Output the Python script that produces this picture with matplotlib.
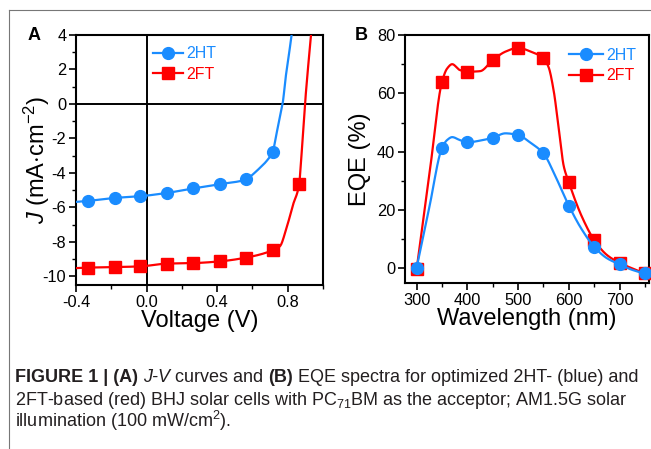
import numpy as np
import matplotlib
matplotlib.use("Agg")
import matplotlib.pyplot as plt
from matplotlib.lines import Line2D

plt.rcParams['font.family'] = ['Liberation Sans', 'DejaVu Sans']
plt.rcParams['mathtext.fontset'] = 'custom'
plt.rcParams['mathtext.rm'] = 'Liberation Sans'
plt.rcParams['mathtext.it'] = 'Liberation Sans:italic'
plt.rcParams['mathtext.bf'] = 'Liberation Sans:bold'

# ---------------- data: panel A (J-V) ----------------
v_markers = [-0.33, -0.18, -0.035, 0.115, 0.265, 0.415, 0.565, 0.715]
j_2ht_markers = [-5.62, -5.45, -5.35, -5.16, -4.90, -4.65, -4.38, -2.77]
v_2ft_markers = [-0.33, -0.18, -0.035, 0.115, 0.265, 0.415, 0.565, 0.715, 0.865]
j_2ft_markers = [-9.49, -9.46, -9.42, -9.26, -9.23, -9.13, -8.91, -8.49, -4.65]

# measured curves (denser than the markers)
v_2ht_curve = [-0.40, -0.33, -0.18, -0.035, 0.115, 0.265, 0.415, 0.565, 0.606, 0.643, 0.681,
               0.715, 0.737, 0.756, 0.771, 0.789, 0.808, 0.822]
j_2ht_curve = [-5.68, -5.62, -5.45, -5.35, -5.16, -4.90, -4.65, -4.38, -4.05, -3.70, -3.30,
               -2.77, -1.70, -0.74, 0.0, 1.59, 2.95, 4.0]
v_2ft_curve = [-0.40, -0.33, -0.18, -0.035, 0.115, 0.265, 0.415, 0.565, 0.715, 0.756, 0.793,
               0.83, 0.865, 0.875, 0.898, 0.92, 0.932]
j_2ft_curve = [-9.52, -9.49, -9.46, -9.42, -9.26, -9.23, -9.13, -8.91, -8.49, -8.25, -7.2,
               -5.85, -4.65, -3.4, 0.0, 2.66, 4.0]

# ---------------- data: panel B (EQE) ----------------
wavelength = [300, 350, 400, 450, 500, 550, 600, 650, 700, 750]
eqe_2ht = [0.3, 41.3, 43.2, 44.8, 45.7, 39.4, 21.5, 7.4, 1.4, -1.7]
eqe_2ft = [-0.2, 64.0, 67.4, 71.4, 75.6, 72.0, 29.5, 9.7, 1.9, -1.7]

# measured spectra (denser than the markers)
wl_2ht_curve = [300, 325, 350, 360, 370, 385, 400, 425, 450, 475, 500, 525, 550, 575, 600,
                625, 650, 675, 700, 725, 750]
eqe_2ht_curve = [0.3, 21.0, 41.3, 44.0, 45.0, 44.0, 43.2, 43.8, 44.8, 46.3, 45.7, 43.0, 39.4,
                 31.0, 21.5, 13.5, 7.4, 3.5, 1.4, -0.5, -1.7]
wl_2ft_curve = [300, 325, 350, 360, 370, 385, 400, 425, 450, 475, 500, 525, 550, 560, 570,
                580, 590, 600, 625, 650, 675, 700, 725, 750]
eqe_2ft_curve = [-0.2, 32.0, 64.0, 68.5, 70.0, 68.0, 67.4, 67.6, 71.4, 74.3, 75.6, 74.3, 72.0,
                 69.0, 61.0, 48.0, 35.0, 29.5, 18.0, 9.7, 4.6, 1.9, 0.0, -1.7]

labels = ['2HT', '2FT']
blue = '#1a8cff'
red = '#ff0000'


def pchip(x, y, xs):
    x = np.asarray(x, float); y = np.asarray(y, float); xs = np.asarray(xs, float)
    h = np.diff(x); delta = np.diff(y) / h
    n = len(x)
    d = np.zeros(n)
    for k in range(1, n - 1):
        if delta[k - 1] * delta[k] > 0:
            w1 = 2 * h[k] + h[k - 1]; w2 = h[k] + 2 * h[k - 1]
            d[k] = (w1 + w2) / (w1 / delta[k - 1] + w2 / delta[k])
    def end(h0, h1, d0, d1):
        dd = ((2 * h0 + h1) * d0 - h0 * d1) / (h0 + h1)
        if np.sign(dd) != np.sign(d0):
            dd = 0.0
        elif np.sign(d0) != np.sign(d1) and abs(dd) > abs(3 * d0):
            dd = 3 * d0
        return dd
    d[0] = end(h[0], h[1], delta[0], delta[1])
    d[-1] = end(h[-1], h[-2], delta[-1], delta[-2])
    idx = np.clip(np.searchsorted(x, xs) - 1, 0, n - 2)
    t = (xs - x[idx]) / h[idx]
    h00 = 2 * t ** 3 - 3 * t ** 2 + 1; h10 = t ** 3 - 2 * t ** 2 + t
    h01 = -2 * t ** 3 + 3 * t ** 2; h11 = t ** 3 - t ** 2
    return (h00 * y[idx] + h10 * h[idx] * d[idx] + h01 * y[idx + 1] + h11 * h[idx] * d[idx + 1])


fig = plt.figure(figsize=(6.51, 4.49), dpi=100)
W, H = 651, 449

def ax_rect(l, r, t, b):
    return [l / W, 1 - b / H, (r - l) / W, (b - t) / H]

axA = fig.add_axes(ax_rect(76, 323, 35, 285))
axB = fig.add_axes(ax_rect(405, 649, 35, 283))

lw = 1.6
ms = 8.5
tick_fs = 11.8
lab_fs = 17
for ax in (axA, axB):
    for s in ax.spines.values():
        s.set_linewidth(1.5)
    ax.tick_params(which='major', direction='out', length=5, width=1.2, labelsize=tick_fs, pad=2,
                   top=False, right=False)
    ax.tick_params(which='minor', direction='out', length=3, width=1.0, top=False, right=False)

# Panel A
axA.axhline(0, color='black', lw=1.4, zorder=1)
axA.axvline(0, color='black', lw=1.4, zorder=1)
xs = np.linspace(v_2ht_curve[0], v_2ht_curve[-1], 500)
axA.plot(xs, pchip(v_2ht_curve, j_2ht_curve, xs), color=blue, lw=lw, zorder=3)
xs = np.linspace(v_2ft_curve[0], v_2ft_curve[-1], 500)
axA.plot(xs, pchip(v_2ft_curve, j_2ft_curve, xs), color=red, lw=lw, zorder=3)
axA.plot(v_markers, j_2ht_markers, 'o', color=blue, ms=ms, zorder=4)
axA.plot(v_2ft_markers, j_2ft_markers, 's', color=red, ms=ms - 0.5, zorder=4)
axA.set_xlim(-0.4, 1.0)
axA.set_ylim(-10.5, 4)
axA.set_xticks([-0.4, 0.0, 0.4, 0.8])
axA.set_xticks([-0.2, 0.2, 0.6, 1.0], minor=True)
axA.set_xticklabels(['-0.4', '0.0', '0.4', '0.8'])
axA.set_yticks([4, 2, 0, -2, -4, -6, -8, -10])
axA.set_yticks(np.arange(-9, 4, 2), minor=True)
axA.set_yticklabels(['4', '2', '0', '-2', '-4', '-6', '-8', '-10'])
axA.set_xlabel('Voltage (V)', fontsize=lab_fs, labelpad=0)
axA.set_ylabel(r'$J$ (mA$\cdot$cm$^{-2}$)', fontsize=lab_fs)
axA.yaxis.set_label_coords((52 - 76) / 247, 0.5)

hA = [Line2D([], [], color=blue, lw=lw, marker='o', ms=ms),
      Line2D([], [], color=red, lw=lw, marker='s', ms=ms - 0.5)]
legA = axA.legend(hA, labels, loc='upper left', bbox_to_anchor=(0.265, 1.0), frameon=False,
                  fontsize=11.5, handlelength=1.9, handletextpad=0.2, labelspacing=0.35,
                  borderaxespad=0.3)
for t, c in zip(legA.get_texts(), [blue, red]):
    t.set_color(c)

# Panel B
xs = np.linspace(300, 750, 600)
axB.plot(xs, pchip(wl_2ft_curve, eqe_2ft_curve, xs), color=red, lw=lw, zorder=3)
axB.plot(wavelength, eqe_2ft, 's', color=red, ms=ms - 0.5, zorder=4, clip_on=False)
axB.plot(xs, pchip(wl_2ht_curve, eqe_2ht_curve, xs), color=blue, lw=lw, zorder=5)
axB.plot(wavelength, eqe_2ht, 'o', color=blue, ms=ms, zorder=6, clip_on=False)
axB.set_xlim(277, 758)
axB.set_ylim(-5, 80)
axB.set_xticks([300, 400, 500, 600, 700])
axB.set_xticks([350, 450, 550, 650, 750], minor=True)
axB.set_yticks([0, 20, 40, 60, 80])
axB.set_yticks([10, 30, 50, 70], minor=True)
axB.set_xlabel('Wavelength (nm)', fontsize=lab_fs, labelpad=0)
axB.set_ylabel('EQE (%)', fontsize=lab_fs)
axB.yaxis.set_label_coords((371 - 405) / 244, 0.5)
hB = [Line2D([], [], color=blue, lw=lw, marker='o', ms=ms),
      Line2D([], [], color=red, lw=lw, marker='s', ms=ms - 0.5)]
legB = axB.legend(hB, labels, loc='upper right', bbox_to_anchor=(1.0, 1.0), frameon=False,
                  fontsize=11.5, handlelength=2.1, handletextpad=0.2, labelspacing=0.35,
                  borderaxespad=0.4)
for t, c in zip(legB.get_texts(), [blue, red]):
    t.set_color(c)

# panel letters
fig.text(28 / W, 1 - 35 / H, 'A', fontsize=13, fontweight='bold', va='center', ha='left')
fig.text(355 / W, 1 - 35 / H, 'B', fontsize=13, fontweight='bold', va='center', ha='left')

# frame lines
fig.add_artist(Line2D([9 / W, 9 / W], [0, 1 - 10 / H], transform=fig.transFigure, color='#777777', lw=0.8))
fig.add_artist(Line2D([9 / W, 1], [1 - 10 / H, 1 - 10 / H], transform=fig.transFigure, color='#777777', lw=0.8))

# caption
renderer = fig.canvas.get_renderer()
cap_size = 13.0
cap_color = '#231f20'

def runs(x0, ypix, parts):
    x = x0
    for txt, kw in parts:
        t = fig.text(x / W, 1 - ypix / H, txt, fontsize=cap_size, color=cap_color, va='baseline', ha='left', **kw)
        bb = t.get_window_extent(renderer=renderer)
        x += bb.width

B = {'fontweight': 'bold'}
N = {}
I = {'fontstyle': 'italic'}
runs(15, 382, [('FIGURE 1 | (A) ', B), ('J-V', I), (' curves and ', N), ('(B)', B),
               (' EQE spectra for optimized 2HT- (blue) and', N)])
runs(15, 405, [('2FT-based (red) BHJ solar cells with PC$_{71}$BM as the acceptor; AM1.5G solar', N)])
runs(15, 427, [('illumination (100 mW/cm$^{2}$).', N)])

fig.savefig('out.png', dpi=100)
